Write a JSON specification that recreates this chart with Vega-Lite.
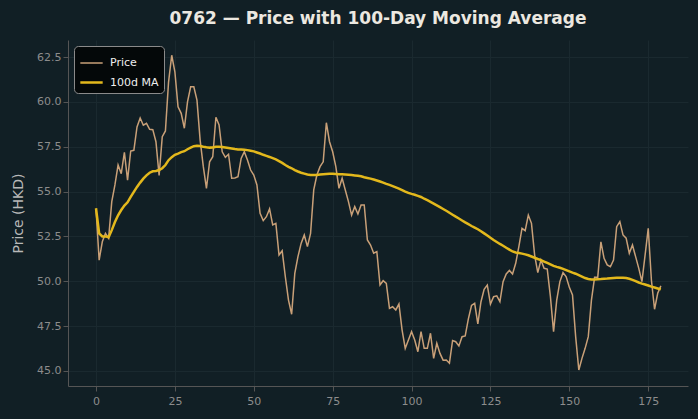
{
  "$schema": "https://vega.github.io/schema/vega-lite/v6.json",
  "width": 620,
  "height": 346,
  "autosize": "none",
  "padding": {"left": 68, "top": 40, "right": 10, "bottom": 33},
  "background": "#111f25",
  "title": {"text": "0762 — Price with 100-Day Moving Average", "color": "#ece8e0", "font": "DejaVu Sans", "fontSize": 17, "fontWeight": "bold", "anchor": "middle", "offset": 12},
  "config": {
    "view": {"stroke": null, "fill": "#111f25"},
    "axis": {"labelFont": "DejaVu Sans", "titleFont": "DejaVu Sans", "labelColor": "#8c8c8c", "titleColor": "#b8b8b8", "labelFontSize": 11, "titleFontSize": 14, "titleFontWeight": "normal", "gridColor": "#1a292f", "gridWidth": 1, "domainColor": "#555555", "tickColor": "#555555", "tickSize": 5}
  },
  "data": {"values": [
{"day":0,"Price":54.05,"100d MA":54.07},{"day":1,"Price":51.18,"100d MA":52.67},{"day":2,"Price":52.2,"100d MA":52.5},{"day":3,"Price":52.67,"100d MA":52.5},{"day":4,"Price":52.4,"100d MA":52.45},
{"day":5,"Price":54.44,"100d MA":52.85},{"day":6,"Price":55.37,"100d MA":53.3},{"day":7,"Price":56.48,"100d MA":53.68},{"day":8,"Price":56.0,"100d MA":53.97},{"day":9,"Price":57.19,"100d MA":54.22},
{"day":10,"Price":55.64,"100d MA":54.4},{"day":11,"Price":57.26,"100d MA":54.7},{"day":12,"Price":57.3,"100d MA":54.98},{"day":13,"Price":58.6,"100d MA":55.26},{"day":14,"Price":59.1,"100d MA":55.5},
{"day":15,"Price":58.7,"100d MA":55.72},{"day":16,"Price":58.8,"100d MA":55.9},{"day":17,"Price":58.47,"100d MA":56.05},{"day":18,"Price":58.45,"100d MA":56.13},{"day":19,"Price":57.78,"100d MA":56.15},
{"day":20,"Price":55.9,"100d MA":56.2},{"day":21,"Price":58.06,"100d MA":56.3},{"day":22,"Price":58.38,"100d MA":56.48},{"day":23,"Price":61.12,"100d MA":56.75},{"day":24,"Price":62.6,"100d MA":56.92},
{"day":25,"Price":61.68,"100d MA":57.05},{"day":26,"Price":59.73,"100d MA":57.12},{"day":27,"Price":59.36,"100d MA":57.2},{"day":28,"Price":58.53,"100d MA":57.25},{"day":29,"Price":60.0,"100d MA":57.36},
{"day":30,"Price":60.84,"100d MA":57.45},{"day":31,"Price":60.84,"100d MA":57.53},{"day":32,"Price":60.1,"100d MA":57.56},{"day":33,"Price":57.87,"100d MA":57.54},{"day":34,"Price":56.4,"100d MA":57.5},
{"day":35,"Price":55.18,"100d MA":57.47},{"day":36,"Price":56.66,"100d MA":57.45},{"day":37,"Price":56.94,"100d MA":57.46},{"day":38,"Price":59.14,"100d MA":57.5},{"day":39,"Price":58.71,"100d MA":57.5},
{"day":40,"Price":57.22,"100d MA":57.49},{"day":41,"Price":56.91,"100d MA":57.46},{"day":42,"Price":57.08,"100d MA":57.43},{"day":43,"Price":55.74,"100d MA":57.4},{"day":44,"Price":55.76,"100d MA":57.37},
{"day":45,"Price":55.83,"100d MA":57.35},{"day":46,"Price":56.85,"100d MA":57.34},{"day":47,"Price":57.22,"100d MA":57.33},{"day":48,"Price":56.76,"100d MA":57.31},{"day":49,"Price":56.2,"100d MA":57.28},
{"day":50,"Price":55.92,"100d MA":57.24},{"day":51,"Price":55.37,"100d MA":57.18},{"day":52,"Price":53.79,"100d MA":57.12},{"day":53,"Price":53.38,"100d MA":57.05},{"day":54,"Price":53.6,"100d MA":56.99},
{"day":55,"Price":54.03,"100d MA":56.93},{"day":56,"Price":53.14,"100d MA":56.86},{"day":57,"Price":53.23,"100d MA":56.79},{"day":58,"Price":51.46,"100d MA":56.7},{"day":59,"Price":51.7,"100d MA":56.6},
{"day":60,"Price":50.25,"100d MA":56.48},{"day":61,"Price":48.95,"100d MA":56.38},{"day":62,"Price":48.16,"100d MA":56.3},{"day":63,"Price":50.44,"100d MA":56.2},{"day":64,"Price":51.37,"100d MA":56.12},
{"day":65,"Price":52.11,"100d MA":56.05},{"day":66,"Price":52.58,"100d MA":56.0},{"day":67,"Price":51.93,"100d MA":55.95},{"day":68,"Price":52.67,"100d MA":55.92},{"day":69,"Price":55.09,"100d MA":55.92},
{"day":70,"Price":55.92,"100d MA":55.93},{"day":71,"Price":56.39,"100d MA":55.95},{"day":72,"Price":56.66,"100d MA":55.97},{"day":73,"Price":58.84,"100d MA":55.98},{"day":74,"Price":57.78,"100d MA":55.99},
{"day":75,"Price":57.22,"100d MA":55.99},{"day":76,"Price":56.39,"100d MA":55.98},{"day":77,"Price":55.18,"100d MA":55.97},{"day":78,"Price":55.74,"100d MA":55.96},{"day":79,"Price":55.09,"100d MA":55.95},
{"day":80,"Price":54.44,"100d MA":55.94},{"day":81,"Price":53.69,"100d MA":55.92},{"day":82,"Price":54.16,"100d MA":55.9},{"day":83,"Price":53.75,"100d MA":55.88},{"day":84,"Price":54.25,"100d MA":55.85},
{"day":85,"Price":54.25,"100d MA":55.8},{"day":86,"Price":52.3,"100d MA":55.76},{"day":87,"Price":52.02,"100d MA":55.72},{"day":88,"Price":51.56,"100d MA":55.67},{"day":89,"Price":51.65,"100d MA":55.62},
{"day":90,"Price":49.79,"100d MA":55.56},{"day":91,"Price":50.03,"100d MA":55.5},{"day":92,"Price":49.88,"100d MA":55.43},{"day":93,"Price":48.49,"100d MA":55.37},{"day":94,"Price":48.58,"100d MA":55.3},
{"day":95,"Price":48.4,"100d MA":55.23},{"day":96,"Price":48.73,"100d MA":55.16},{"day":97,"Price":47.28,"100d MA":55.08},{"day":98,"Price":46.26,"100d MA":55.0},{"day":99,"Price":46.72,"100d MA":54.93},
{"day":100,"Price":47.19,"100d MA":54.87},{"day":101,"Price":46.72,"100d MA":54.82},{"day":102,"Price":46.07,"100d MA":54.76},{"day":103,"Price":47.19,"100d MA":54.7},{"day":104,"Price":46.26,"100d MA":54.6},
{"day":105,"Price":46.26,"100d MA":54.52},{"day":106,"Price":47.1,"100d MA":54.43},{"day":107,"Price":45.7,"100d MA":54.33},{"day":108,"Price":46.54,"100d MA":54.23},{"day":109,"Price":45.98,"100d MA":54.13},
{"day":110,"Price":45.6,"100d MA":54.03},{"day":111,"Price":45.61,"100d MA":53.93},{"day":112,"Price":45.43,"100d MA":53.82},{"day":113,"Price":46.7,"100d MA":53.71},{"day":114,"Price":46.63,"100d MA":53.6},
{"day":115,"Price":46.39,"100d MA":53.5},{"day":116,"Price":46.91,"100d MA":53.39},{"day":117,"Price":46.95,"100d MA":53.28},{"day":118,"Price":47.9,"100d MA":53.18},{"day":119,"Price":48.65,"100d MA":53.08},
{"day":120,"Price":48.77,"100d MA":52.99},{"day":121,"Price":47.62,"100d MA":52.9},{"day":122,"Price":48.86,"100d MA":52.79},{"day":123,"Price":49.55,"100d MA":52.67},{"day":124,"Price":49.79,"100d MA":52.55},
{"day":125,"Price":48.73,"100d MA":52.42},{"day":126,"Price":49.14,"100d MA":52.3},{"day":127,"Price":49.19,"100d MA":52.19},{"day":128,"Price":48.86,"100d MA":52.08},{"day":129,"Price":49.98,"100d MA":51.98},
{"day":130,"Price":50.41,"100d MA":51.87},{"day":131,"Price":50.6,"100d MA":51.76},{"day":132,"Price":50.4,"100d MA":51.66},{"day":133,"Price":51.0,"100d MA":51.6},{"day":134,"Price":51.93,"100d MA":51.57},
{"day":135,"Price":52.95,"100d MA":51.54},{"day":136,"Price":52.82,"100d MA":51.5},{"day":137,"Price":53.69,"100d MA":51.45},{"day":138,"Price":53.23,"100d MA":51.38},{"day":139,"Price":51.46,"100d MA":51.31},
{"day":140,"Price":50.48,"100d MA":51.24},{"day":141,"Price":51.18,"100d MA":51.18},{"day":142,"Price":50.72,"100d MA":51.1},{"day":143,"Price":50.68,"100d MA":51.02},{"day":144,"Price":49.14,"100d MA":50.94},
{"day":145,"Price":47.19,"100d MA":50.86},{"day":146,"Price":48.95,"100d MA":50.8},{"day":147,"Price":49.98,"100d MA":50.75},{"day":148,"Price":50.48,"100d MA":50.69},{"day":149,"Price":50.25,"100d MA":50.62},
{"day":150,"Price":49.66,"100d MA":50.55},{"day":151,"Price":49.24,"100d MA":50.48},{"day":152,"Price":46.91,"100d MA":50.42},{"day":153,"Price":45.05,"100d MA":50.34},{"day":154,"Price":45.7,"100d MA":50.26},
{"day":155,"Price":46.26,"100d MA":50.18},{"day":156,"Price":46.91,"100d MA":50.13},{"day":157,"Price":48.95,"100d MA":50.1},{"day":158,"Price":50.22,"100d MA":50.1},{"day":159,"Price":50.22,"100d MA":50.11},
{"day":160,"Price":52.2,"100d MA":50.12},{"day":161,"Price":51.28,"100d MA":50.14},{"day":162,"Price":50.91,"100d MA":50.15},{"day":163,"Price":50.81,"100d MA":50.17},{"day":164,"Price":51.18,"100d MA":50.18},
{"day":165,"Price":53.04,"100d MA":50.19},{"day":166,"Price":53.32,"100d MA":50.2},{"day":167,"Price":52.58,"100d MA":50.2},{"day":168,"Price":52.4,"100d MA":50.18},{"day":169,"Price":51.56,"100d MA":50.14},
{"day":170,"Price":52.02,"100d MA":50.08},{"day":171,"Price":51.37,"100d MA":50.01},{"day":172,"Price":50.72,"100d MA":49.93},{"day":173,"Price":49.98,"100d MA":49.87},{"day":174,"Price":51.46,"100d MA":49.82},
{"day":175,"Price":52.95,"100d MA":49.76},{"day":176,"Price":50.07,"100d MA":49.7},{"day":177,"Price":48.44,"100d MA":49.65},{"day":178,"Price":49.33,"100d MA":49.6},{"day":179,"Price":49.74,"100d MA":49.55}
  ]},
  "transform": [{"fold": ["Price", "100d MA"], "as": ["series", "value"]}],
  "mark": {"type": "line", "interpolate": "linear"},
  "encoding": {
    "x": {"field": "day", "type": "quantitative", "scale": {"domain": [-8.87, 187.6], "nice": false, "zero": false},
      "axis": {"values": [0, 25, 50, 75, 100, 125, 150, 175], "title": null, "grid": true, "labelPadding": 4}},
    "y": {"field": "value", "type": "quantitative", "scale": {"domain": [44.16, 63.45], "nice": false, "zero": false},
      "axis": {"values": [45, 47.5, 50, 52.5, 55, 57.5, 60, 62.5], "format": ".1f", "title": "Price (HKD)", "grid": true, "titlePadding": 11}},
    "color": {"field": "series", "type": "nominal",
      "scale": {"domain": ["Price", "100d MA"], "range": ["#c9a078", "#e3b81c"]},
      "legend": {"title": null, "orient": "top-left", "offset": 6, "fillColor": "#040809", "strokeColor": "#8a8a8a", "cornerRadius": 4, "padding": 5, "labelColor": "#eeeeee", "labelFont": "DejaVu Sans", "labelFontSize": 11, "symbolType": "stroke", "symbolSize": 500, "symbolStrokeWidth": 2.2, "rowPadding": 2, "labelOffset": 6}},
    "strokeWidth": {"field": "series", "type": "nominal", "scale": {"domain": ["Price", "100d MA"], "range": [1.5, 2.5]}, "legend": null},
    "order": {"field": "day", "type": "quantitative"}
  }
}
